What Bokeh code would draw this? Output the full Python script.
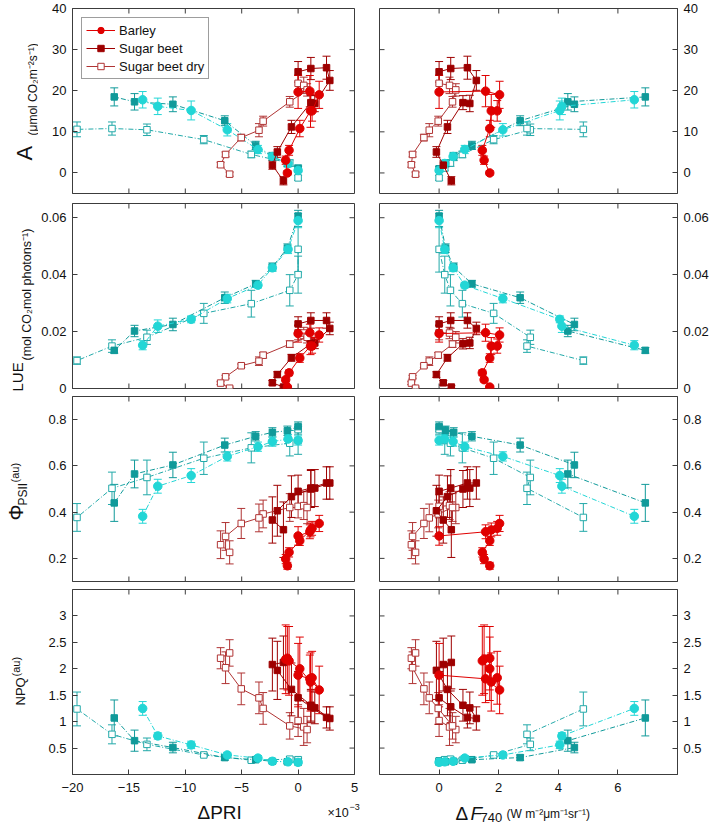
import math
from bokeh.plotting import figure
from bokeh.models import (Range1d, LinearAxis, FixedTicker, ColumnDataSource,
                          Whisker, TeeHead, Legend, LegendItem)
from bokeh.layouts import gridplot, row, column
from bokeh.core.properties import value
from bokeh.embed import file_html
from bokeh.resources import INLINE

# ---------------- data ----------------
# x: delta PRI (x1e-3) and delta F740 (W m-2 um-1 sr-1)
# set 1 (red, solid lines)
barley1_pri = [0, 1.04, 1.87, 1.24, 1.10, 0.15, -0.80, -1.10, -0.95]
barley1_f740 = [0, 1.56, 2.03, 1.95, 1.75, 1.70, 1.45, 1.51, 1.70]
barley1_A = [19.7, 19.9, 19.0, 15.1, 15.1, 10.8, 5.5, 3.1, 0.0]
barley1_A_err = [4.0, 3.8, 3.3, 2.5, 4.0, 2.0, 1.2, 1.0, 0.5]
barley1_lue = [0.0193, 0.0196, 0.0188, 0.0149, 0.0149, 0.0107, 0.0055, 0.0031, 0.0005]
barley1_lue_err = [0.003, 0.003, 0.0025, 0.0025, 0.003, 0.0015, 0.001, 0.0008, 0.0004]
barley1_phi = [0.297, 0.315, 0.351, 0.330, 0.323, 0.276, 0.226, 0.197, 0.168]
barley1_phi_err = [0.04, 0.03, 0.035, 0.03, 0.03, 0.02, 0.02, 0.02, 0.015]
barley1_npq = [1.88, 1.81, 1.60, 1.83, 1.75, 2.00, 2.15, 2.18, 2.20]
barley1_npq_err = [0.6, 0.45, 0.45, 0.5, 0.55, 0.6, 0.65, 0.65, 0.6]

beet1_pri = [0, 1.13, 2.52, 2.81, 1.48, 1.13, -0.59, -1.84, -2.28, -1.30]
beet1_f740 = [0, 0.39, 0.95, 1.25, 1.03, 0.80, 0.28, -0.09, 0.14, 0.41]
beet1_A = [24.6, 25.4, 25.6, 22.5, 16.9, 17.1, 11.2, 5.1, 1.9, -1.9]
beet1_A_err = [2.5, 2.7, 2.8, 2.4, 2.0, 1.7, 1.6, 1.3, 1.0, 1.0]
beet1_lue = [0.0227, 0.0239, 0.0239, 0.0211, 0.0160, 0.0157, 0.0108, 0.0049, 0.0020, 0.0005]
beet1_lue_err = [0.0025, 0.0027, 0.0027, 0.0022, 0.002, 0.0018, 0.0012, 0.001, 0.0008, 0.0005]
beet1_phi = [0.490, 0.504, 0.526, 0.526, 0.504, 0.500, 0.467, 0.406, 0.366, 0.324]
beet1_phi_err = [0.07, 0.08, 0.07, 0.07, 0.08, 0.08, 0.09, 0.11, 0.10, 0.12]
beet1_npq = [1.45, 1.28, 1.08, 1.06, 1.26, 1.31, 1.61, 1.97, 2.08, 2.12]
beet1_npq_err = [0.5, 0.3, 0.2, 0.22, 0.3, 0.3, 0.5, 0.55, 0.5, 0.5]

dry1_pri = [0, 0.5, 0.8, -0.74, -3.1, -3.47, -5.04, -6.43, -6.87, -6.07]
dry1_f740 = [0, 0.35, 0.56, 0.45, -0.03, -0.33, -0.51, -0.89, -0.93, -0.79]
dry1_A = [21.8, 21.3, 20.2, 17.3, 12.6, 10.4, 8.6, 4.5, 2.0, -0.3]
dry1_A_err = [2.0, 2.0, 1.5, 1.3, 1.2, 1.6, 0.8, 0.6, 0.6, 0.5]
dry1_lue = [0.0196, 0.0195, 0.0180, 0.0156, 0.0117, 0.0096, 0.0080, 0.0041, 0.0019, 0.0001]
dry1_lue_err = [0.0025, 0.002, 0.002, 0.0012, 0.001, 0.0015, 0.0006, 0.0005, 0.0005, 0.0004]
dry1_phi = [0.425, 0.428, 0.420, 0.420, 0.392, 0.375, 0.351, 0.295, 0.259, 0.226]
dry1_phi_err = [0.05, 0.06, 0.07, 0.06, 0.06, 0.06, 0.065, 0.06, 0.06, 0.05]
dry1_npq = [1.02, 0.90, 0.85, 0.92, 1.25, 1.45, 1.62, 2.02, 2.20, 2.30]
dry1_npq_err = [0.3, 0.35, 0.25, 0.25, 0.3, 0.3, 0.3, 0.3, 0.2, 0.25]

# set 2 (cyan, dash-dot lines)
barley2_pri = [0, -0.89, -2.28, -3.56, -6.28, -9.48, -12.44, -13.78]
barley2_f740 = [0, 0.19, 0.47, 0.86, 2.14, 4.05, 4.12, 6.55]
barley2_A = [0.6, 2.3, 4.0, 5.7, 10.5, 15.2, 16.2, 17.8]
barley2_A_err = [0.5, 0.8, 0.8, 1.0, 1.5, 2.3, 2.0, 2.0]
barley2_lue = [0.0590, 0.0489, 0.0424, 0.0363, 0.0316, 0.0243, 0.0219, 0.0152]
barley2_lue_err = [0.0025, 0.0015, 0.0012, 0.001, 0.0015, 0.0012, 0.0022, 0.0016]
barley2_phi = [0.710, 0.716, 0.705, 0.683, 0.641, 0.558, 0.512, 0.382]
barley2_phi_err = [0.02, 0.02, 0.02, 0.02, 0.02, 0.03, 0.03, 0.03]
barley2_npq = [0.23, 0.24, 0.25, 0.31, 0.37, 0.56, 0.73, 1.25]
barley2_npq_err = [0.03, 0.03, 0.03, 0.05, 0.05, 0.07, 0.06, 0.13]

beet2_pri = [0, -0.95, -2.28, -3.76, -6.5, -11.1, -14.5, -16.3]
beet2_f740 = [0, 0.22, 0.49, 1.10, 2.72, 4.54, 4.32, 6.92]
beet2_A = [1.0, 2.3, 4.0, 6.7, 12.7, 16.7, 17.3, 18.5]
beet2_A_err = [0.6, 0.8, 1.0, 1.0, 1.2, 1.8, 2.0, 2.2]
beet2_lue = [0.0606, 0.0493, 0.0427, 0.0368, 0.0319, 0.0225, 0.0202, 0.0134]
beet2_lue_err = [0.002, 0.0015, 0.0014, 0.0012, 0.002, 0.0022, 0.002, 0.001]
beet2_phi = [0.770, 0.752, 0.745, 0.728, 0.690, 0.604, 0.565, 0.440]
beet2_phi_err = [0.02, 0.02, 0.02, 0.02, 0.03, 0.055, 0.06, 0.08]
beet2_npq = [0.23, 0.24, 0.25, 0.28, 0.32, 0.51, 0.64, 1.07]
beet2_npq_err = [0.03, 0.03, 0.03, 0.03, 0.05, 0.10, 0.20, 0.34]

dry2_pri = [0, 0, -0.74, -4.15, -8.36, -13.4, -16.5, -19.6]
dry2_f740 = [0, 0.19, 0.38, 0.78, 1.83, 3.06, 2.95, 4.84]
dry2_A = [-1.2, 1.2, 2.4, 4.5, 8.1, 10.5, 10.8, 10.6]
dry2_A_err = [0.6, 0.7, 0.8, 0.8, 1.0, 1.4, 1.6, 1.8]
dry2_lue = [0.0489, 0.0400, 0.0345, 0.0298, 0.0264, 0.0180, 0.0149, 0.0098]
dry2_lue_err = [0.008, 0.0065, 0.0055, 0.0047, 0.0035, 0.0025, 0.0022, 0.0013]
dry2_phi = [0.757, 0.710, 0.698, 0.678, 0.633, 0.550, 0.503, 0.377]
dry2_phi_err = [0.02, 0.06, 0.055, 0.065, 0.07, 0.075, 0.07, 0.06]
dry2_npq = [0.26, 0.28, 0.29, 0.27, 0.37, 0.57, 0.76, 1.24]
dry2_npq_err = [0.04, 0.05, 0.04, 0.03, 0.03, 0.12, 0.18, 0.32]

legend_labels = ["Barley", "Sugar beet", "Sugar beet dry"]

x_ticks_pri = [-20, -15, -10, -5, 0, 5]
x_ticks_f740 = [0, 2, 4, 6]
y_ticks_A = [0, 10, 20, 30, 40]
y_ticks_lue = [0, 0.02, 0.04, 0.06]
y_ticks_phi = [0.2, 0.4, 0.6, 0.8]
y_ticks_npq = [0.5, 1, 1.5, 2, 2.5, 3]

# ---------------- styling ----------------
FONT = "Liberation Sans"
AX = "#3c3c3c"
TXT = "#111111"
RED_B, RED_S, RED_D = "#e00000", "#9e0000", "#b03434"
CY_B, CY_S, CY_D = "#22d6d6", "#109a9a", "#22a9a9"
CY_DASH = "5 2 1 2"


def series(prefix, color, marker, size, fill, dash, label):
    g = globals()
    return dict(pri=g[prefix + "_pri"], f740=g[prefix + "_f740"],
                A=g[prefix + "_A"], A_err=g[prefix + "_A_err"],
                lue=g[prefix + "_lue"], lue_err=g[prefix + "_lue_err"],
                phi=g[prefix + "_phi"], phi_err=g[prefix + "_phi_err"],
                npq=g[prefix + "_npq"], npq_err=g[prefix + "_npq_err"],
                color=color, marker=marker, size=size, fill=fill, dash=dash, label=label)


SERIES = [
    series("dry2", CY_D, "square", 6.5, "white", CY_DASH, None),
    series("beet2", CY_S, "square", 6.5, CY_S, CY_DASH, None),
    series("barley2", CY_B, "circle", 8.5, CY_B, CY_DASH, None),
    series("dry1", RED_D, "square", 6.5, "white", "solid", legend_labels[2]),
    series("beet1", RED_S, "square", 6.5, RED_S, "solid", legend_labels[1]),
    series("barley1", RED_B, "circle", 8.5, RED_B, "solid", legend_labels[0]),
]

ROWS = [
    dict(key="A", yr=(-5, 40), ticks=y_ticks_A, ov=None),
    dict(key="lue", yr=(0, 0.065), ticks=y_ticks_lue,
         ov={0: "0", 0.02: "0.02", 0.04: "0.04", 0.06: "0.06"}),
    dict(key="phi", yr=(0.1, 0.9), ticks=y_ticks_phi, ov=None),
    dict(key="npq", yr=(0, 3.5), ticks=y_ticks_npq,
         ov={0.5: "0.5", 1: "1", 1.5: "1.5", 2: "2", 2.5: "2.5", 3: "3"}),
]

# layout (pixels)
FH = 185
TOP = [8, 6, 1, 4]
BOT = [4, 7, 4, 24]
LW = 38                     # width of the y-label strip
FW = [282, 298]
BL = [30, 13]
BR = [12, 34]
GRID_H = sum(TOP) + sum(BOT) + 4 * FH
BOT_H = 26
TOTAL_W = LW + sum(FW) + sum(BL) + sum(BR)
TICK = 5


def labeled_axis(ticks, overrides, standoff):
    ax = LinearAxis(ticker=FixedTicker(ticks=ticks),
                    major_tick_in=TICK, major_tick_out=0, minor_tick_in=0, minor_tick_out=0,
                    axis_line_color=AX, major_tick_line_color=AX,
                    major_label_text_font=FONT, major_label_text_font_size="13px",
                    major_label_text_color=TXT, major_label_standoff=standoff)
    if overrides:
        ax.major_label_overrides = overrides
    return ax


def inward_ticks(p, side, ticks, xr, yr, fw, fh):
    n = len(ticks)
    if side in ("above", "below"):
        d = TICK * (yr[1] - yr[0]) / fh
        y0 = yr[1] if side == "above" else yr[0]
        y1 = y0 - d if side == "above" else y0 + d
        p.segment(x0=ticks, y0=[y0] * n, x1=ticks, y1=[y1] * n, line_color=AX, line_width=1)
    else:
        d = TICK * (xr[1] - xr[0]) / fw
        x0 = xr[1] if side == "right" else xr[0]
        x1 = x0 - d if side == "right" else x0 + d
        p.segment(x0=[x0] * n, y0=ticks, x1=[x1] * n, y1=ticks, line_color=AX, line_width=1)


grid = []
for r, rw in enumerate(ROWS):
    cells = []
    for c in range(2):
        xr = (-20, 5) if c == 0 else (-2, 8)
        yr = rw["yr"]
        p = figure(frame_width=FW[c], frame_height=FH,
                   x_range=Range1d(*xr), y_range=Range1d(*yr),
                   output_backend="svg", toolbar_location=None,
                   x_axis_location=None, y_axis_location=None,
                   min_border_left=BL[c], min_border_right=BR[c],
                   min_border_top=TOP[r], min_border_bottom=BOT[r])
        p.grid.visible = False
        p.outline_line_color = AX
        p.outline_line_width = 1
        p.background_fill_color = "white"
        p.border_fill_color = "white"

        xt = x_ticks_pri if c == 0 else x_ticks_f740
        if r == 3:
            xov = {t: (f"−{abs(t)}" if t < 0 else str(t)) for t in xt}
            p.add_layout(labeled_axis(xt, xov, 8), "below")
        else:
            inward_ticks(p, "below", xt, xr, yr, FW[c], FH)
        inward_ticks(p, "above", xt, xr, yr, FW[c], FH)
        if c == 0:
            p.add_layout(labeled_axis(rw["ticks"], rw["ov"], 6), "left")
            inward_ticks(p, "right", rw["ticks"], xr, yr, FW[c], FH)
        else:
            p.add_layout(labeled_axis(rw["ticks"], rw["ov"], 6), "right")
            inward_ticks(p, "left", rw["ticks"], xr, yr, FW[c], FH)

        legend_items = []
        for s in SERIES:
            xs = s["pri"] if c == 0 else s["f740"]
            ys = s[rw["key"]]
            er = s[rw["key"] + "_err"]
            src = ColumnDataSource(dict(x=xs, y=ys,
                                        lo=[y - e for y, e in zip(ys, er)],
                                        hi=[y + e for y, e in zip(ys, er)]))
            p.add_layout(Whisker(source=src, base="x", lower="lo", upper="hi",
                                 dimension="height", line_color=s["color"], line_width=1,
                                 upper_head=TeeHead(size=8, line_color=s["color"], line_width=1),
                                 lower_head=TeeHead(size=8, line_color=s["color"], line_width=1)))
            ln = p.line("x", "y", source=src, line_color=s["color"], line_width=1,
                        line_dash=s["dash"])
            sc = p.scatter("x", "y", source=src, marker=s["marker"], size=s["size"],
                           fill_color=s["fill"], line_color=s["color"], line_width=1)
            if s["label"] and r == 0 and c == 0:
                legend_items.append(LegendItem(label=s["label"], renderers=[ln, sc]))

        if legend_items:
            legend_items.reverse()
            lg = Legend(items=legend_items, location="top_left",
                        border_line_color=AX, border_line_width=1,
                        background_fill_color="white", background_fill_alpha=1,
                        label_text_font=FONT, label_text_font_size="13px",
                        label_text_color=TXT,
                        glyph_width=29, glyph_height=16, label_height=16,
                        spacing=2, padding=4, margin=9, label_standoff=4)
            p.add_layout(lg)
        cells.append(p)
    grid.append(cells)

g = gridplot(grid, toolbar_location=None)


def text_fig(w, h):
    f = figure(frame_width=w, frame_height=h, x_range=Range1d(0, w), y_range=Range1d(0, h),
               output_backend="svg", toolbar_location=None,
               x_axis_location=None, y_axis_location=None,
               min_border=0, min_border_left=0, min_border_right=0,
               min_border_top=0, min_border_bottom=0)
    f.grid.visible = False
    f.outline_line_color = None
    f.background_fill_color = "white"
    f.border_fill_color = "white"
    return f


def put(f, text, x, y, size, angle=0.0, baseline="alphabetic", style="normal"):
    f.text(x=[x], y=[y], text=[text], angle=angle, text_align="left",
           text_baseline=baseline, text_font=value(FONT),
           text_font_size=value(f"{size}px"), text_font_style=style, text_color=TXT)


# y-axis titles, in a strip left of the grid (page pixels: x, y of text start)
ylab = text_fig(LW, GRID_H)
Y_TITLES = [
    ("A", 22, 24, 160), ("(μmol CO₂m⁻²s⁻¹)", 12, 32, 135),
    ("LUE", 15, 17, 391), ("(mol CO₂mol photons⁻¹)", 12.5, 26, 360),
    ("Φ", 20, 15, 520), ("PSII", 12, 22, 505), ("(au)", 11, 14, 482),
    ("NPQ", 13, 20, 705), ("(au)", 11, 15, 676),
]
for text, size, px, py in Y_TITLES:
    put(ylab, text, px, GRID_H - py, size, angle=math.pi / 2, baseline="middle")

# x-axis titles, in a strip under the grid
xlab = text_fig(TOTAL_W, BOT_H)
X_TITLES = [
    ("ΔPRI", 19, 197, 812, "normal"), ("×10", 12.5, 327, 812, "normal"),
    ("−3", 9, 349, 806, "normal"),
    ("Δ", 19, 455, 813, "normal"), ("F", 19, 470, 813, "italic"),
    ("740", 13, 480, 817, "normal"), ("(W m⁻²μm⁻¹sr⁻¹)", 12, 506, 813, "normal"),
]
for text, size, px, py, st in X_TITLES:
    put(xlab, text, px, GRID_H + BOT_H - py, size, style=st)

layout = column(row(ylab, g), xlab)
open("out.html", "w").write(file_html(layout, INLINE))
